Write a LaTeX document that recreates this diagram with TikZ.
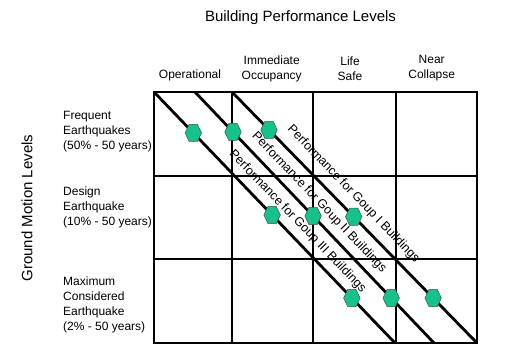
\documentclass[tikz,border=0pt]{standalone}
\usepackage{fontspec}
\setmainfont{Liberation Sans}
\usetikzlibrary{shapes.geometric}
\definecolor{hexfill}{RGB}{22,194,140}
\tikzset{
  gridline/.style={line width=1.2pt, black},
  diag/.style={line width=2.8pt, black},
  hexnode/.style={shape=regular polygon, regular polygon sides=6, minimum size=16.5pt, inner sep=0pt, yscale=1.2, fill=hexfill, draw=black!70, line width=0.5pt},
  hdr/.style={font=\fontsize{12}{15}\selectfont, align=center, inner sep=0pt},
  rowlbl/.style={font=\fontsize{12}{15}\selectfont, align=left, anchor=west, inner sep=0pt},
  diaglbl/.style={font=\fontsize{12.5}{15}\selectfont, rotate=-46.2, inner sep=0pt},
  big/.style={font=\fontsize{15}{18}\selectfont, inner sep=0pt}
}
\begin{document}
\begin{tikzpicture}[x=1pt,y=-1pt]
\useasboundingbox (0,0) rectangle (520,364);
% grid
\draw[gridline] (154,92) rectangle (477,343);
\draw[gridline] (232,92) -- (232,343) (313,92) -- (313,343) (396,92) -- (396,343);
\draw[gridline] (154,176) -- (477,176) (154,259) -- (477,259);
% line ends
\coordinate (a1) at (154,92); \coordinate (b1) at (395,343);
\coordinate (a2) at (195,92); \coordinate (b2) at (434,343);
\coordinate (a3) at (232,92); \coordinate (b3) at (477,343);
\draw[diag] (a1) -- (b1);
\draw[diag] (a2) -- (b2);
\draw[diag] (a3) -- (b3);
% hexagons (group III on line 1, II on line 2, I on line 3)
\path (a1) -- (b1) node[hexnode, pos=0.163] (h31) {} node[hexnode, pos=0.490] (h32) {} node[hexnode, pos=0.821] (h33) {};
\path (a2) -- (b2) node[hexnode, pos=0.159] (h21) {} node[hexnode, pos=0.494] (h22) {} node[hexnode, pos=0.821] (h23) {};
\path (a3) -- (b3) node[hexnode, pos=0.151] (h11) {} node[hexnode, pos=0.497] (h12) {} node[hexnode, pos=0.821] (h13) {};
% diagonal labels
\node[diaglbl] (l1) at (353.3,194) {Performance for Goup I Buildings};
\node[diaglbl] (l2) at (319.2,202.5) {Performance for Goup II Buildings};
\node[diaglbl] (l3) at (297.5,221.7) {Performance for Goup III Buildings};
% title & axis labels
\node[big] (title) at (300.5,17.5) {Building Performance Levels};
\node[big, rotate=90] (gml) at (27,208) {Ground Motion Levels};
% column headers
\node[hdr] (c1) at (190,75) {Operational};
\node[hdr] (c2) at (271.7,68.5) {Immediate\\Occupancy};
\node[hdr] (c3) at (350,68.5) {Life\\Safe};
\node[hdr] (c4) at (431.7,68.5) {Near\\Collapse};
% row labels
\node[rowlbl] (r1) at (63,132) {Frequent\\Earthquakes\\(50\% - 50 years)};
\node[rowlbl] (r2) at (63,207) {Design\\Earthquake\\(10\% - 50 years)};
\node[rowlbl] (r3) at (63,304.5) {Maximum\\Considered\\Earthquake\\(2\% - 50 years)};
\end{tikzpicture}
\end{document}
